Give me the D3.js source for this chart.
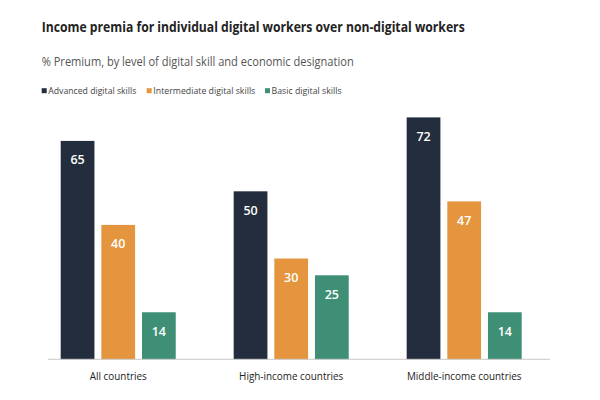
<!DOCTYPE html>
<html><head><meta charset="utf-8">
<script src="https://cdn.jsdelivr.net/npm/d3@7"></script>
<style>body{margin:0;background:#fff}svg{display:block}</style>
</head><body>
<svg id="chart" width="600" height="400"></svg>
<script>
const categories = ["All countries", "High-income countries", "Middle-income countries"];
const seriesNames = ["Advanced digital skills", "Intermediate digital skills", "Basic digital skills"];
const advanced = [65, 50, 72];
const intermediate = [40, 30, 47];
const basic = [14, 25, 14];
const seriesValues = [advanced, intermediate, basic];
const colors = ["#232d3d", "#e4953e", "#3e8f76"];

const svg = d3.select("#chart");
const font = "'Open Sans', sans-serif";
const baseY = 359.3;

function fitW(sel, w) {
  sel.attr("textLength", w).attr("lengthAdjust", "spacingAndGlyphs");
}
function squeeze(sel, f) {
  sel.each(function() {
    const w = this.getComputedTextLength();
    d3.select(this).attr("textLength", w * f).attr("lengthAdjust", "spacingAndGlyphs");
  });
}

const title = svg.append("text").attr("x", 41.7).attr("y", 32.3)
  .attr("font-family", font).attr("font-weight", 700).attr("font-size", 13.6)
  .attr("fill", "#232323").text("Income premia for individual digital workers over non-digital workers");
fitW(title, 423);
const sub = svg.append("text").attr("x", 41.7).attr("y", 65.7)
  .attr("font-family", font).attr("font-weight", 400).attr("font-size", 12)
  .attr("fill", "#555").text("% Premium, by level of digital skill and economic designation");
fitW(sub, 312);

const legendX = [41.7, 146.7, 265];
const legendW = [88, 102, 70];
seriesNames.forEach((n, i) => {
  const g = svg.append("g").attr("transform", `translate(${legendX[i]},90.7)`);
  g.append("rect").attr("x", 0).attr("y", -2.5).attr("width", 5).attr("height", 5).attr("fill", colors[i]);
  const t = g.append("text").attr("x", 6.6).attr("y", 3.6).attr("font-family", font).attr("font-size", 9.8)
    .attr("fill", "#444").text(n);
  fitW(t, legendW[i]);
});

const x0 = d3.scaleBand().domain(categories).range([43.4, 539]).paddingInner(0.335).paddingOuter(0.1);
const x1 = d3.scaleBand().domain(d3.range(seriesNames.length)).range([0, x0.bandwidth()]).paddingInner(0.17).paddingOuter(0);
const y = d3.scaleLinear().domain([0, 72]).range([baseY, baseY - 241.9]);

categories.forEach((c, ci) => {
  const g = svg.append("g").attr("transform", `translate(${x0(c)},0)`);
  seriesValues.forEach((vals, si) => {
    const v = vals[ci];
    g.append("rect").attr("x", x1(si)).attr("y", y(v)).attr("width", x1.bandwidth())
      .attr("height", y(0) - y(v)).attr("fill", colors[si]);
    g.append("text").attr("x", x1(si) + x1.bandwidth() / 2).attr("y", y(v) + 23.5)
      .attr("text-anchor", "middle").attr("font-family", font).attr("font-weight", 600)
      .attr("font-size", 12.5).attr("fill", "#fff").text(v);
  });
});

svg.append("line").attr("x1", 48).attr("x2", 550).attr("y1", baseY).attr("y2", baseY)
  .attr("stroke", "#c8c8c8").attr("stroke-width", 1);

const xAxis = d3.axisBottom(x0).tickSize(0).tickPadding(13);
const ax = svg.append("g").attr("transform", `translate(0,${baseY})`).call(xAxis);
ax.select(".domain").remove();
ax.selectAll("text").attr("font-family", font).attr("font-size", 11).attr("fill", "#222");
squeeze(ax.selectAll("text"), 0.9);
</script>
</body></html>
